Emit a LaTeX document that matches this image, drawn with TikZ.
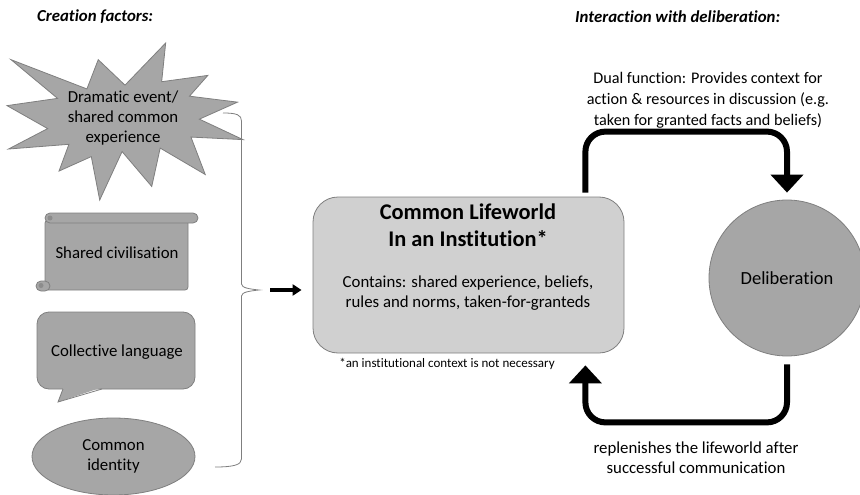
\documentclass[tikz,border=0pt]{standalone}
\usepackage{fontspec}
\setmainfont{Carlito}[Ligatures=NoCommon]
\usepackage{xcolor}
\usepackage{tikz}
\usetikzlibrary{arrows.meta}
\usetikzlibrary{shapes.geometric}

\definecolor{edgegray}{HTML}{7F7F7F}
\definecolor{midgray}{HTML}{A6A6A6}
\definecolor{curlgray}{HTML}{8C8C8C}
\definecolor{boxgray}{HTML}{D0D0D0}

\begin{document}
\begin{tikzpicture}[x=1pt,y=-1pt,
        factor/.style={draw=edgegray,fill=midgray,line width=0.8pt},
        flow/.style={line width=6pt,rounded corners=20pt,-{Triangle[length=18pt,width=32pt]}},
        txt/.style={font=\fontsize{16.8}{20}\selectfont,align=center,inner sep=0pt},
        heading/.style={font=\fontsize{16.8}{19}\selectfont\bfseries\itshape,anchor=west,inner sep=0pt}]
        \useasboundingbox (0,0) rectangle (860,495);
        \clip (0,0) rectangle (860,495);

        \node[heading] (hleft) at (37,17) {Creation factors:};
        \node[heading] (hright) at (575,17) {Interaction with deliberation:};

        % explosion
        \begin{scope}[shift={(7,43)},xscale=1.0926,yscale=0.7269]
            \draw[factor] (108,58) -- (145.22,0) -- (141.55,53.25) -- (183.80,44.57) -- (167.02,73.15)
                -- (210.97,81.37) -- (176.07,104.75) -- (216,132.90) -- (168.37,129.42) -- (181.45,180.95)
                -- (140.20,144.57) -- (132.47,197.37) -- (105.32,149.35) -- (84.85,216) -- (77.15,156.27)
                -- (47.62,176.17) -- (56.67,139.37) -- (1.35,145.87) -- (37.22,117.75) -- (0,86.15)
                -- (46.27,76.17) -- (3.70,22.95) -- (73.12,63.20) -- (83.52,22.95) -- cycle;
        \end{scope}
        \node[txt] (event) at (123,118) {Dramatic event/\\shared common\\experience};

        % scroll
        \draw[factor,rounded corners=3pt] (45,220) rectangle (188,290);
        \draw[factor,rounded corners=5pt] (36,281) rectangle (50,291);
        \fill[curlgray] (41,285.5) circle (2.5pt);
        \draw[factor,rounded corners=5pt] (45,213) rectangle (198,223);
        \fill[curlgray] (50,218) circle (2.5pt);
        \node[txt] (civil) at (117,253) {Shared civilisation};

        % speech bubble
        \draw[factor,rounded corners=12pt] (37,312) rectangle (195,389);
        \fill[midgray] (63.5,387) -- (58,402) -- (103,387) -- cycle;
        \draw[edgegray,line width=0.8pt] (63,389) -- (58,402) -- (102,389);
        \node[txt] (lang) at (117,352) {Collective language};

        \node[factor,ellipse,txt,minimum width=163pt,minimum height=77pt] (ident) at (113.5,456.5) {Common\\identity};

        % brace
        \coordinate (bracetop) at (223,113);
        \coordinate (bracebot) at (215,467);
        \coordinate (bracetip) at (259,290);
        \draw[edgegray,line width=0.8pt] (bracetop) .. controls +(14,0) and +(0,-6) .. (241.5,121) -- (241.5,284)
            .. controls +(0,4) and +(-9,-1) .. (bracetip) .. controls +(-9,1) and +(0,-4) .. (241.5,296)
            -- (241.5,459) .. controls +(0,6) and +(18,0) .. (bracebot);

        \node[draw=edgegray,fill=boxgray,line width=0.8pt,rounded corners=25pt,
            minimum width=311pt,minimum height=156pt] (life) at (468.5,275) {};
        \node[txt,font=\fontsize{22.4}{27}\selectfont\bfseries] (lifetitle) at (468,225.5) {Common Lifeworld\\In an Institution*};
        \node[txt] (lifetext) at (468,293) {Contains: shared experience, beliefs,\\rules and norms, taken-for-granteds};
        \node[txt,font=\fontsize{13}{15}\selectfont] (note) at (447,364) {*an institutional context is not necessary};

        \draw[line width=3.5pt,-{Triangle[length=9pt,width=11pt]}] ([xshift=11pt]bracetip) -- ([xshift=-11pt]life.west |- bracetip);

        \node[factor,circle,minimum size=156pt,txt,font=\fontsize{18.5}{22}\selectfont] (delib) at (787,278) {Deliberation};

        \draw[flow] ([xshift=-39pt,yshift=4pt]life.north east) -- ++(0,-61) -| ([yshift=7pt]delib.north);
        \draw[flow] ([yshift=-8pt]delib.south) -- ++(0,58) -| ([xshift=-39pt,yshift=-12pt]life.south east);

        \node[txt,font=\fontsize{16.2}{21}\selectfont] (dual) at (708,100) {Dual function: Provides context for\\action \& resources in discussion (e.g.\\taken for granted facts and beliefs)};
        \node[txt] (replen) at (696,458) {replenishes the lifeworld after\\successful communication};
\end{tikzpicture}
\end{document}
